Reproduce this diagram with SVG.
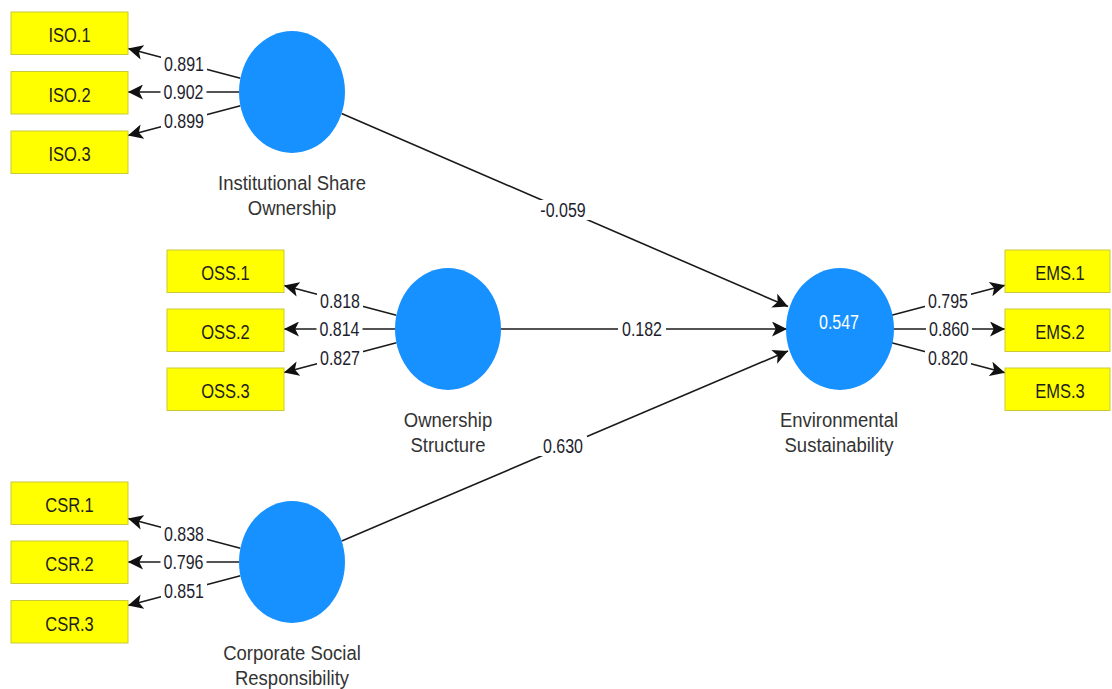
<svg xmlns="http://www.w3.org/2000/svg" width="1112" height="689" viewBox="0 0 1112 689">
  <style>
    .ind { fill: #ffff00; stroke: #c9c93a; stroke-width: 1; }
    .lv { fill: #1791ff; }
    .edge { stroke: #1a1a1a; stroke-width: 1.6; fill: none; marker-end: url(#arrow); }
    .bg { fill: #ffffff; }
    text { font-family: "Liberation Sans", Arial, sans-serif; text-anchor: middle; }
    .box { font-size: 16.5px; fill: #1e1e1e; }
    .num { font-size: 16px; fill: #1e1e2e; }
    .name { font-size: 18.5px; fill: #333333; }
    .r2 { font-size: 16px; fill: #ffffff; }
  </style>
  <defs>
    <marker id="arrow" viewBox="0 0 14 14" refX="14" refY="7" markerWidth="15" markerHeight="15" markerUnits="userSpaceOnUse" orient="auto">
      <path d="M0,0 L14,7 L0,14 L3.5,7 z" fill="#111111"/>
    </marker>
  </defs>
  <rect width="1112" height="689" fill="#ffffff"/>

  <!-- connectors: loadings and structural paths -->
  <g id="connectors">
    <line class="edge" x1="240.4" y1="78.3" x2="128" y2="48.5"/>
    <line class="edge" x1="239" y1="92" x2="128" y2="92"/>
    <line class="edge" x1="240.4" y1="105.7" x2="128" y2="135.5"/>

    <line class="edge" x1="396.4" y1="315.3" x2="284" y2="285.5"/>
    <line class="edge" x1="395" y1="329" x2="284" y2="329"/>
    <line class="edge" x1="396.4" y1="342.7" x2="284" y2="372.5"/>

    <line class="edge" x1="240.4" y1="548.3" x2="128" y2="518.5"/>
    <line class="edge" x1="239" y1="562" x2="128" y2="562"/>
    <line class="edge" x1="240.4" y1="575.7" x2="128" y2="605.5"/>

    <line class="edge" x1="891.6" y1="315.3" x2="1005" y2="285.2"/>
    <line class="edge" x1="893" y1="329" x2="1005" y2="329"/>
    <line class="edge" x1="891.6" y1="342.7" x2="1005" y2="372.8"/>

    <line class="edge" x1="341.6" y1="113.5" x2="788" y2="306.5"/>
    <line class="edge" x1="501" y1="329" x2="787" y2="329"/>
    <line class="edge" x1="341.7" y1="540.9" x2="788" y2="351"/>

    <!-- coefficient labels -->
    <g id="edge-labels">
      <rect class="bg" x="161" y="54.5" width="46" height="18"/>
      <text class="num" transform="translate(184,70.6) scale(1,1.25)">0.891</text>
      <rect class="bg" x="160.5" y="83" width="46" height="18"/>
      <text class="num" transform="translate(183.5,99.2) scale(1,1.25)">0.902</text>
      <rect class="bg" x="161" y="111.5" width="46" height="18"/>
      <text class="num" transform="translate(184,127.8) scale(1,1.25)">0.899</text>

      <rect class="bg" x="317" y="291.5" width="46" height="18"/>
      <text class="num" transform="translate(340,307.6) scale(1,1.25)">0.818</text>
      <rect class="bg" x="316.5" y="320" width="46" height="18"/>
      <text class="num" transform="translate(339.5,336.2) scale(1,1.25)">0.814</text>
      <rect class="bg" x="317" y="348.5" width="46" height="18"/>
      <text class="num" transform="translate(340,364.8) scale(1,1.25)">0.827</text>

      <rect class="bg" x="161" y="524.5" width="46" height="18"/>
      <text class="num" transform="translate(184,540.6) scale(1,1.25)">0.838</text>
      <rect class="bg" x="160.5" y="553" width="46" height="18"/>
      <text class="num" transform="translate(183.5,569.2) scale(1,1.25)">0.796</text>
      <rect class="bg" x="161" y="581.5" width="46" height="18"/>
      <text class="num" transform="translate(184,597.8) scale(1,1.25)">0.851</text>

      <rect class="bg" x="925" y="291.5" width="46" height="18"/>
      <text class="num" transform="translate(948,307.5) scale(1,1.25)">0.795</text>
      <rect class="bg" x="926" y="320" width="46" height="18"/>
      <text class="num" transform="translate(949,336.2) scale(1,1.25)">0.860</text>
      <rect class="bg" x="925" y="349" width="46" height="18"/>
      <text class="num" transform="translate(948,365) scale(1,1.25)">0.820</text>

      <rect class="bg" x="535" y="200" width="56" height="20"/>
      <text class="num" transform="translate(563,217.2) scale(1,1.25)">-0.059</text>
      <rect class="bg" x="618" y="320" width="48" height="18"/>
      <text class="num" transform="translate(642,336.2) scale(1,1.25)">0.182</text>
      <rect class="bg" x="539" y="436" width="48" height="20"/>
      <text class="num" transform="translate(563,453.2) scale(1,1.25)">0.630</text>
    </g>
  </g>

  <!-- Institutional Share Ownership -->
  <g id="node-iso">
    <ellipse class="lv" cx="292" cy="92" rx="53" ry="61"/>
    <text class="name" transform="translate(292,190) scale(1,1.1)">Institutional Share</text>
    <text class="name" transform="translate(292,215) scale(1,1.1)">Ownership</text>
  </g>
  <g id="node-iso1"><rect class="ind" x="11" y="12" width="117" height="42.5"/><text class="box" transform="translate(69.5,42) scale(1,1.25)">ISO.1</text></g>
  <g id="node-iso2"><rect class="ind" x="11" y="71.5" width="117" height="42.5"/><text class="box" transform="translate(69.5,101.5) scale(1,1.25)">ISO.2</text></g>
  <g id="node-iso3"><rect class="ind" x="11" y="131" width="117" height="42.5"/><text class="box" transform="translate(69.5,161) scale(1,1.25)">ISO.3</text></g>

  <!-- Ownership Structure -->
  <g id="node-oss">
    <ellipse class="lv" cx="448" cy="329" rx="53" ry="61"/>
    <text class="name" transform="translate(448,427) scale(1,1.1)">Ownership</text>
    <text class="name" transform="translate(448,452) scale(1,1.1)">Structure</text>
  </g>
  <g id="node-oss1"><rect class="ind" x="167" y="250" width="117" height="42.5"/><text class="box" transform="translate(225.5,280) scale(1,1.25)">OSS.1</text></g>
  <g id="node-oss2"><rect class="ind" x="167" y="309" width="117" height="42.5"/><text class="box" transform="translate(225.5,339) scale(1,1.25)">OSS.2</text></g>
  <g id="node-oss3"><rect class="ind" x="167" y="368" width="117" height="42.5"/><text class="box" transform="translate(225.5,398) scale(1,1.25)">OSS.3</text></g>

  <!-- Corporate Social Responsibility -->
  <g id="node-csr">
    <ellipse class="lv" cx="292" cy="562" rx="53" ry="61"/>
    <text class="name" transform="translate(292,660) scale(1,1.1)">Corporate Social</text>
    <text class="name" transform="translate(292,685) scale(1,1.1)">Responsibility</text>
  </g>
  <g id="node-csr1"><rect class="ind" x="11" y="482" width="117" height="42.5"/><text class="box" transform="translate(69.5,512) scale(1,1.25)">CSR.1</text></g>
  <g id="node-csr2"><rect class="ind" x="11" y="541" width="117" height="42.5"/><text class="box" transform="translate(69.5,571) scale(1,1.25)">CSR.2</text></g>
  <g id="node-csr3"><rect class="ind" x="11" y="600.5" width="117" height="42.5"/><text class="box" transform="translate(69.5,630.5) scale(1,1.25)">CSR.3</text></g>

  <!-- Environmental Sustainability -->
  <g id="node-es">
    <ellipse class="lv" cx="840" cy="329" rx="54" ry="61"/>
    <text class="r2" transform="translate(839,329) scale(1,1.25)">0.547</text>
    <text class="name" transform="translate(839,427) scale(1,1.1)">Environmental</text>
    <text class="name" transform="translate(839,452) scale(1,1.1)">Sustainability</text>
  </g>
  <g id="node-ems1"><rect class="ind" x="1005" y="250" width="105" height="42.5"/><text class="box" transform="translate(1060,280) scale(1,1.25)">EMS.1</text></g>
  <g id="node-ems2"><rect class="ind" x="1005" y="309" width="105" height="42.5"/><text class="box" transform="translate(1060,339) scale(1,1.25)">EMS.2</text></g>
  <g id="node-ems3"><rect class="ind" x="1005" y="368" width="105" height="42.5"/><text class="box" transform="translate(1060,398) scale(1,1.25)">EMS.3</text></g>
</svg>
